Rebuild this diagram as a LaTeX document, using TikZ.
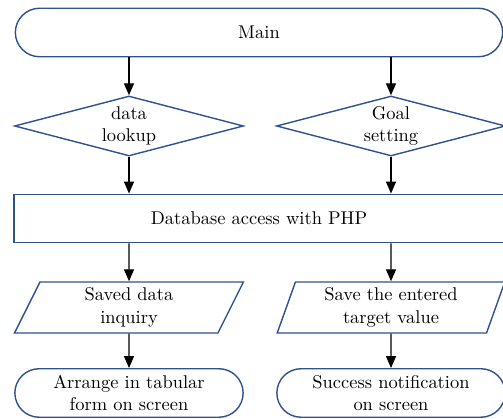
\documentclass[tikz,border=0pt]{standalone}
\usepackage{tikz}
\usetikzlibrary{arrows.meta, shapes, positioning}
\definecolor{boxblue}{RGB}{47,82,143}
\tikzset{
		every node/.style={font=\fontsize{10.5pt}{12.8pt}\selectfont},
		terminal/.style={draw=boxblue, line width=0.8pt, rounded rectangle, minimum height=0.97cm, align=center},
		decision/.style={draw=boxblue, line width=0.8pt, diamond, shape aspect=3.8, inner sep=0pt, minimum width=4.58cm, minimum height=1.2cm, align=center},
		process/.style={draw=boxblue, line width=0.8pt, rectangle, minimum width=9.8cm, minimum height=0.97cm},
		io/.style={draw=boxblue, line width=0.8pt, trapezium, trapezium left angle=76, trapezium right angle=104, trapezium stretches=true, minimum width=4.58cm, minimum height=0.97cm, align=center, inner xsep=0pt}
	}
\begin{document}
\begin{tikzpicture}[>={Triangle[length=2.4mm,width=2mm]}, thick]
				\useasboundingbox (0,0) rectangle (10.06,8.38);
				\node[terminal, minimum width=9.98cm] (main)   at (5.18,7.73) {Main};
				\node[decision] (lookup) at (2.58,5.86) {data\\lookup};
				\node[decision] (goal)   at (7.82,5.86) {Goal\\setting};
				\node[process]  (php)    at (5.18,4.01) {Database access with PHP};
				\node[io]       (saved)  at (2.58,2.23) {Saved data\\inquiry};
				\node[io]       (store)  at (7.82,2.23) {Save the entered\\target value};
				\node[terminal, minimum width=4.8cm] (table)   at (2.58,0.52) {Arrange in tabular\\form on screen};
				\node[terminal, minimum width=4.8cm] (success) at (7.82,0.52) {Success notification\\on screen};

				\draw[->] (main.south -| lookup) -- (lookup);
				\draw[->] (main.south -| goal) -- (goal);
				\draw[->] (lookup) -- (php.north -| lookup);
				\draw[->] (goal) -- (php.north -| goal);
				\draw[->] (php.south -| saved) -- (saved);
				\draw[->] (php.south -| store) -- (store);
				\draw[->] (saved) -- (table);
				\draw[->] (store) -- (success);
			\end{tikzpicture}
\end{document}
